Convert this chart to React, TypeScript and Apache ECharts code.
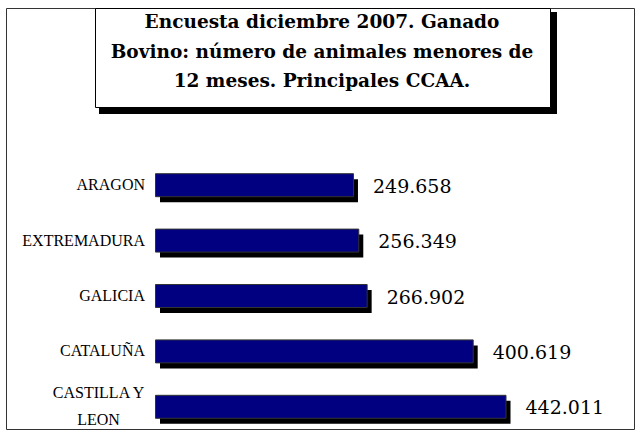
import React, { useEffect, useRef } from "react";
import * as echarts from "echarts";

const titleLines = [
  "Encuesta diciembre 2007. Ganado",
  "Bovino: número de animales menores de",
  "12 meses. Principales CCAA.",
];
const categories = ["ARAGON", "EXTREMADURA", "GALICIA", "CATALUÑA", "CASTILLA Y\nLEON"];
const values = [249.658, 256.349, 266.902, 400.619, 442.011];
const valueLabels = ["249.658", "256.349", "266.902", "400.619", "442.011"];

export default function App() {
  const ref = useRef<HTMLDivElement>(null);
  useEffect(() => {
    document.body.style.margin = "0";
    const chart = echarts.init(ref.current!, undefined, { renderer: "svg" });
    const barH = 23;
    chart.setOption({
      animation: false,
      backgroundColor: "#ffffff",
      grid: { left: 155, top: 157, width: 396.5, height: 278 },
      xAxis: { type: "value", min: 0, max: 500, show: false },
      yAxis: {
        type: "category",
        data: categories,
        inverse: true,
        axisLine: { show: false },
        axisTick: { show: false },
        splitLine: { show: false },
        axisLabel: {
          margin: 10,
          formatter: (v: string) => `{l|${v}}`,
          rich: {
            l: {
              align: "center",
              fontFamily: "Liberation Serif",
              fontSize: 16,
              lineHeight: 27,
              color: "#000",
            },
          },
        },
      },
      series: [
        {
          type: "custom",
          data: values.map((v, i) => [v, i]),
          encode: { x: 0, y: 1 },
          renderItem: (params: any, api: any) => {
            const v = api.value(0);
            const idx = api.value(1);
            const s = api.coord([0, idx]);
            const e = api.coord([v, idx]);
            const w = e[0] - s[0];
            return {
              type: "group",
              children: [
                {
                  type: "rect",
                  shape: { x: s[0] + 5, y: s[1] - barH / 2 + 6, width: w, height: barH },
                  style: { fill: "#000000" },
                },
                {
                  type: "rect",
                  shape: { x: s[0] + 0.5, y: s[1] - barH / 2 + 0.5, width: w, height: barH },
                  style: { fill: "#000080", stroke: "#333333", lineWidth: 1 },
                },
                {
                  type: "text",
                  x: e[0] + 20,
                  y: s[1] + 1,
                  style: {
                    text: valueLabels[params.dataIndex],
                    fontFamily: "DejaVu Serif",
                    fontSize: 19,
                    fill: "#000",
                    align: "left",
                    verticalAlign: "middle",
                  },
                },
              ],
            };
          },
        },
      ],
      graphic: [
        {
          type: "rect",
          shape: { x: 6.5, y: 8.5, width: 628, height: 421 },
          style: { fill: "none", stroke: "#333333", lineWidth: 1 },
        },
        {
          type: "rect",
          shape: { x: 99, y: 12, width: 458, height: 102 },
          style: { fill: "#000000" },
        },
        {
          type: "rect",
          shape: { x: 95.5, y: 8.5, width: 455, height: 99 },
          style: { fill: "#ffffff", stroke: "#000000", lineWidth: 1 },
        },
        {
          type: "text",
          x: 322,
          y: 7,
          style: {
            text: titleLines.join("\n"),
            fontFamily: "DejaVu Serif",
            fontWeight: "bold",
            fontSize: 18.5,
            lineHeight: 29.5,
            fill: "#000",
            align: "center",
            verticalAlign: "top",
          },
        },
      ],
    });
    return () => chart.dispose();
  }, []);
  return <div ref={ref} style={{ width: 640, height: 434 }} />;
}
